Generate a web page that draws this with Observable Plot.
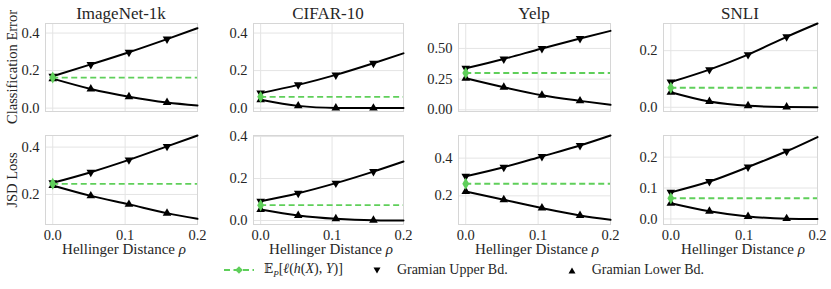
<!DOCTYPE html>
<html><head><meta charset="utf-8">
<script src="https://cdn.jsdelivr.net/npm/d3@7"></script>
<script src="https://cdn.jsdelivr.net/npm/@observablehq/plot@0.6"></script>
<style>
body{margin:0;background:#fff;}
#chart{position:relative;width:831px;height:289px;font-family:"Liberation Serif";color:#262626;overflow:hidden;}
#chart svg, #chart svg text{font-family:"Liberation Serif" !important;}
.abs{position:absolute;white-space:nowrap;line-height:1;font-family:"Liberation Serif";}
.panel{position:absolute;}
</style></head><body><div id="chart"></div>
<script>
// ---------- data ----------
const datasets = ["ImageNet-1k", "CIFAR-10", "Yelp", "SNLI"];
const metrics = ["Classification Error", "JSD Loss"];
const xLabel = "Hellinger Distance";
const legendLabels = ["Gramian Upper Bd.", "Gramian Lower Bd."];
const rho = [0, 0.0526, 0.1053, 0.1579, 0.2];   // marker positions + end point
const xTicks = [0, 0.1, 0.2];

// Classification error
const errExpected = [0.163, 0.060, 0.300, 0.069];
const errUpperImageNet = [0.170, 0.233, 0.298, 0.368, 0.426];
const errLowerImageNet = [0.157, 0.102, 0.061, 0.030, 0.014];
const errUpperCifar = [0.080, 0.124, 0.177, 0.239, 0.292];
const errLowerCifar = [0.045, 0.012, 0.001, 0.000, 0.000];
const errUpperYelp = [0.338, 0.414, 0.500, 0.581, 0.643];
const errLowerYelp = [0.257, 0.184, 0.119, 0.073, 0.041];
const errUpperSnli = [0.089, 0.133, 0.186, 0.249, 0.296];
const errLowerSnli = [0.053, 0.020, 0.005, 0.001, 0.000];

// JSD loss
const jsdExpected = [0.245, 0.073, 0.264, 0.067];
const jsdUpperImageNet = [0.249, 0.294, 0.346, 0.403, 0.449];
const jsdLowerImageNet = [0.238, 0.194, 0.158, 0.121, 0.097];
const jsdUpperCifar = [0.092, 0.130, 0.178, 0.233, 0.281];
const jsdLowerCifar = [0.052, 0.024, 0.008, 0.001, 0.000];
const jsdUpperYelp = [0.304, 0.352, 0.409, 0.467, 0.520];
const jsdLowerYelp = [0.223, 0.179, 0.135, 0.096, 0.073];
const jsdUpperSnli = [0.086, 0.121, 0.168, 0.219, 0.265];
const jsdLowerSnli = [0.051, 0.025, 0.008, 0.001, 0.000];

// y tick labels
const errTicks = [[0, 0.2, 0.4], [0, 0.2, 0.4], [0, 0.25, 0.5], [0, 0.2]];
const jsdTicks = [[0.2, 0.4], [0, 0.2, 0.4], [0.2, 0.4], [0, 0.1, 0.2]];

// ---------- layout / style ----------
const errDomains = [[-0.018, 0.451], [-0.018, 0.451], [-0.0135, 0.703], [-0.015, 0.296]];
const jsdDomains = [[0.073, 0.449], [-0.019, 0.405], [0.048, 0.520], [-0.018, 0.270]];
const errFormats = [".1f", ".1f", ".2f", ".1f"];
const jsdFormats = [".1f", ".1f", ".1f", ".1f"];
const cols = [[45, 197], [253, 403], [458, 610], [663, 817]];
const rows = [[23, 111], [135, 224]];
const GREEN = "#5fcf5a";
const GRID = "#e4e4e4";
const FRAME = "#d6d6d6";
const SERIF = "Liberation Serif";

const rowsData = [
  {expected: errExpected, uppers: [errUpperImageNet, errUpperCifar, errUpperYelp, errUpperSnli],
   lowers: [errLowerImageNet, errLowerCifar, errLowerYelp, errLowerSnli], ticks: errTicks, domains: errDomains, formats: errFormats},
  {expected: jsdExpected, uppers: [jsdUpperImageNet, jsdUpperCifar, jsdUpperYelp, jsdUpperSnli],
   lowers: [jsdLowerImageNet, jsdLowerCifar, jsdLowerYelp, jsdLowerSnli], ticks: jsdTicks, domains: jsdDomains, formats: jsdFormats}
];

const chart = document.getElementById("chart");
function addText(html, left, top, css) {
  const d = document.createElement("div");
  d.className = "abs";
  d.innerHTML = html;
  d.style.left = left + "px";
  d.style.top = top + "px";
  d.style.fontFamily = SERIF;
  Object.assign(d.style, css || {});
  chart.appendChild(d);
  return d;
}

rowsData.forEach((R, ri) => {
  datasets.forEach((name, ci) => {
    const [l, r] = cols[ci];
    const [t, b] = rows[ri];
    const ml = 44, mr = 6, mt = 4, mb = ri === 1 ? 20 : 4;
    const upper = rho.map((x, i) => ({x, y: R.uppers[ci][i]}));
    const lower = rho.map((x, i) => ({x, y: R.lowers[ci][i]}));
    const e = R.expected[ci];
    const plot = Plot.plot({
      width: (r - l) + ml + mr,
      height: (b - t) + mt + mb,
      marginLeft: ml, marginRight: mr, marginTop: mt, marginBottom: mb,
      style: {fontFamily: SERIF, fontSize: "14.5px", color: "#262626", background: "transparent", overflow: "visible"},
      x: ri === 1
        ? {domain: [-0.01, 0.2], ticks: xTicks, tickFormat: d3.format(".1f"), tickSize: 0, tickPadding: 5, label: null}
        : {domain: [-0.01, 0.2], axis: null},
      y: {domain: R.domains[ci], ticks: R.ticks[ci], tickFormat: d3.format(R.formats[ci]), tickSize: 0, tickPadding: 6, label: null},
      marks: [
        Plot.ruleX(xTicks, {stroke: GRID, strokeWidth: 1}),
        Plot.ruleY(R.ticks[ci], {stroke: GRID, strokeWidth: 1}),
        Plot.frame({stroke: FRAME, strokeWidth: 1}),
        Plot.line(upper, {x: "x", y: "y", curve: "monotone-x", stroke: "#000", strokeWidth: 2}),
        Plot.line(lower, {x: "x", y: "y", curve: "monotone-x", stroke: "#000", strokeWidth: 2}),
        Plot.dot(upper.slice(0, 4), {x: "x", y: "y", symbol: "triangle", rotate: 180, fill: "#000", r: 3.2}),
        Plot.dot(lower.slice(0, 4), {x: "x", y: "y", symbol: "triangle", fill: "#000", r: 3.2}),
        Plot.ruleY([e], {x1: 0, x2: 0.2, stroke: GREEN, strokeWidth: 1.8, strokeDasharray: "6,3.5"}),
        Plot.dot([{x: 0, y: e}], {x: "x", y: "y", symbol: "diamond", fill: GREEN, r: 3.6})
      ]
    });
    plot.classList.add("panel");
    plot.style.left = (l - ml) + "px";
    plot.style.top = (t - mt) + "px";
    plot.querySelectorAll("text").forEach(tx => { tx.setAttribute("font-family", SERIF); tx.style.fontFamily = SERIF; });
    chart.appendChild(plot);

    if (ri === 0) {
      addText(name, (l + r) / 2, 5, {fontSize: "17px", transform: "translateX(-50%)"});
    } else {
      addText(xLabel + " <i>ρ</i>", (l + r) / 2 + 3, 242, {fontSize: "15px", transform: "translateX(-50%)"});
    }
  });
  const [t, b] = rows[ri];
  addText(metrics[ri], 12, (t + b) / 2, {fontSize: "14.5px", transform: "translate(-50%,-50%) rotate(-90deg)"});
});

// legend
const legend = document.createElement("div");
legend.className = "abs";
legend.style.left = "224px";
legend.style.top = "262px";
legend.style.fontSize = "14px";
legend.style.fontFamily = SERIF;
legend.style.display = "flex";
legend.style.alignItems = "center";
legend.innerHTML =
  `<svg width="30" height="12" style="margin-right:10px"><line x1="0" y1="6" x2="30" y2="6" stroke="${GREEN}" stroke-width="1.8" stroke-dasharray="6,3.5"/><path d="M15,2.2L18.8,6L15,9.8L11.2,6Z" fill="${GREEN}"/></svg>` +
  `<span><span style="font-family:'DejaVu Serif';font-size:12px">𝔼</span><sub style="font-size:9px;font-style:italic">P</sub>[<i>ℓ</i>(<i>h</i>(<i>X</i>), <i>Y</i>)]</span>` +
  `<svg width="28" height="12" style="margin-left:20px;margin-right:6px"><path d="M10.5,3.5L17.5,3.5L14,9.5Z" fill="#000"/></svg>` +
  `<span>${legendLabels[0]}</span>` +
  `<svg width="28" height="12" style="margin-left:50px;margin-right:6px"><path d="M10.5,9.5L17.5,9.5L14,3.5Z" fill="#000"/></svg>` +
  `<span>${legendLabels[1]}</span>`;
chart.appendChild(legend);
</script></body></html>
